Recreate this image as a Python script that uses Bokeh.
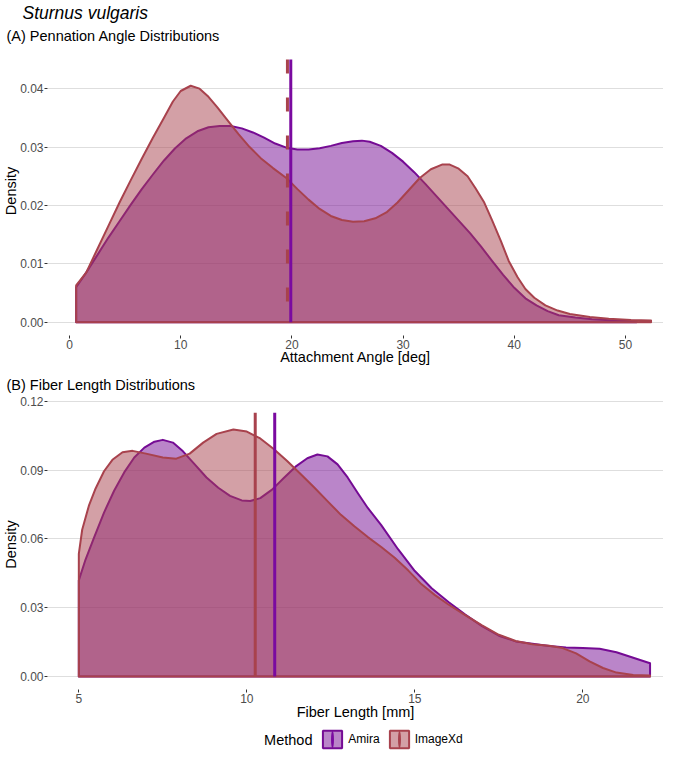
from bokeh.plotting import figure
from bokeh.models import Range1d, FixedTicker, NumeralTickFormatter, Title, Legend, LegendItem, Label
from bokeh.layouts import column
from bokeh.embed import file_html
from bokeh.resources import INLINE

# ---------------- data ----------------
methods = ["Amira", "ImageXd"]
colors = {"Amira": "#750B94", "ImageXd": "#A8424D"}
mean_line_colors = {"Amira": "#7A0AA0", "ImageXd": "#A8424D"}

# Panel A: attachment (pennation) angle densities
angle_amira_x = [0.6, 1.5, 2.5, 3.5, 4.5, 5.5, 6.5, 7.5, 8.5, 9.5, 10.5, 11.5, 12.5, 13.5, 14.5,
                 15.5, 16.5, 17.5, 18.5, 19.5, 20.5, 21.5, 22.5, 23.5, 24.5, 25.5, 26.3, 27.0,
                 28.0, 29.0, 30.0, 31.0, 32.0, 33.0, 34.0, 35.0, 36.0, 37.0, 38.0, 39.0, 40.0,
                 41.0, 42.0, 43.0, 44.0, 45.5, 47.0, 49.0, 51.0]
angle_amira_y = [0.0060, 0.0085, 0.0115, 0.0145, 0.0173, 0.0201, 0.0228, 0.0253, 0.0277, 0.0298,
                 0.0315, 0.0327, 0.0334, 0.0336, 0.0336, 0.0332, 0.0325, 0.0316, 0.0306, 0.0299,
                 0.0296, 0.0296, 0.0298, 0.0302, 0.0307, 0.0310, 0.0311, 0.0309, 0.0302, 0.0290,
                 0.0275, 0.0257, 0.0237, 0.0216, 0.0195, 0.0174, 0.0153, 0.0130, 0.0105, 0.0081,
                 0.0059, 0.0041, 0.0029, 0.0019, 0.0012, 0.0008, 0.0005, 0.0003, 0.0002]
angle_imagexd_x = [0.6, 1.5, 2.5, 3.5, 4.5, 5.5, 6.5, 7.5, 8.5, 9.3, 10.0, 10.9, 11.7, 12.5, 13.3,
                   14.2, 15.2, 16.2, 17.2, 18.3, 19.5, 20.5, 21.5, 22.5, 23.5, 24.5, 25.5, 26.5,
                   27.5, 28.5, 29.5, 30.5, 31.5, 32.5, 33.5, 34.2, 35.0, 35.8, 36.5, 37.3, 38.0,
                   38.8, 39.5, 40.3, 41.0, 41.8, 42.8, 43.9, 45.0, 46.8, 48.5, 50.5, 52.3]
angle_imagexd_y = [0.0063, 0.0085, 0.0125, 0.0165, 0.0205, 0.0243, 0.0280, 0.0316, 0.0350, 0.0378,
                   0.0396, 0.0405, 0.0400, 0.0386, 0.0368, 0.0346, 0.0322, 0.0300, 0.0281, 0.0264,
                   0.0247, 0.0228, 0.0210, 0.0194, 0.0182, 0.0175, 0.0172, 0.0173, 0.0178, 0.0188,
                   0.0205, 0.0226, 0.0247, 0.0262, 0.0270, 0.0270, 0.0263, 0.0250, 0.0230, 0.0205,
                   0.0175, 0.0139, 0.0105, 0.0077, 0.0057, 0.0042, 0.0029, 0.0020, 0.0014, 0.0009,
                   0.0006, 0.0004, 0.0003]
angle_means = {"Amira": 19.9, "ImageXd": 19.6}
angle_line_top = 0.045

# Panel B: fiber length densities
length_amira_x = [5.0, 5.2, 5.45, 5.75, 6.05, 6.35, 6.65, 6.95, 7.25, 7.5, 7.8, 8.1, 8.45, 8.8,
                  9.15, 9.5, 9.85, 10.1, 10.4, 10.75, 11.1, 11.45, 11.8, 12.1, 12.4, 12.7, 13.0,
                  13.3, 13.6, 14.0, 14.5, 15.0, 15.5, 16.0, 16.5, 17.0, 17.5, 18.0, 18.5, 19.0,
                  19.5, 20.0, 20.5, 21.0, 21.5, 22.0]
length_amira_y = [0.0419, 0.0510, 0.0605, 0.0715, 0.0810, 0.0890, 0.0955, 0.0998, 0.1024, 0.1032,
                  0.1020, 0.0982, 0.0925, 0.0868, 0.0823, 0.0788, 0.0768, 0.0765, 0.0778, 0.0815,
                  0.0866, 0.0915, 0.0952, 0.0968, 0.0960, 0.0925, 0.0868, 0.0800, 0.0735, 0.0660,
                  0.0555, 0.0460, 0.0385, 0.0325, 0.0270, 0.0220, 0.0178, 0.0153, 0.0143, 0.0133,
                  0.0127, 0.0124, 0.0121, 0.0106, 0.0082, 0.0058]
length_imagexd_x = [5.0, 5.1, 5.3, 5.5, 5.75, 6.0, 6.3, 6.6, 7.0, 7.5, 7.9, 8.3, 8.7, 9.1, 9.6,
                    10.0, 10.4, 10.8, 11.2, 11.6, 12.0, 12.4, 12.8, 13.2, 13.6, 14.0, 14.4, 14.8,
                    15.2, 15.6, 16.0, 16.5, 17.0, 17.5, 18.0, 18.5, 19.0, 19.4, 19.8, 20.2, 20.6,
                    21.0, 21.5, 22.0]
length_imagexd_y = [0.0535, 0.0640, 0.0745, 0.0820, 0.0895, 0.0945, 0.0978, 0.0984, 0.0972, 0.0955,
                    0.0950, 0.0972, 0.1020, 0.1058, 0.1077, 0.1068, 0.1038, 0.0992, 0.0940, 0.0883,
                    0.0825, 0.0765, 0.0705, 0.0655, 0.0608, 0.0565, 0.0518, 0.0463, 0.0402, 0.0355,
                    0.0314, 0.0268, 0.0223, 0.0182, 0.0155, 0.0141, 0.0134, 0.0124, 0.0101, 0.0066,
                    0.0037, 0.0017, 0.0007, 0.0004]
length_means = {"Amira": 10.83, "ImageXd": 10.25}
length_line_top = 0.115

angle_xticks = [0, 10, 20, 30, 40, 50]
angle_yticks = [0.0, 0.01, 0.02, 0.03, 0.04]
length_xticks = [5, 10, 15, 20]
length_yticks = [0.0, 0.03, 0.06, 0.09, 0.12]

FONT = "Liberation Sans"


def closed(xs, ys):
    return [xs[0]] + list(xs) + [xs[-1]], [0.0] + list(ys) + [0.0]


def style(p, xticks, yticks, xlabel, xlabel_standoff):
    p.outline_line_color = None
    p.background_fill_color = "white"
    p.border_fill_color = "white"
    p.xgrid.grid_line_color = None
    p.ygrid.grid_line_color = "#DEDEDE"
    p.ygrid.grid_line_width = 1
    p.xaxis.ticker = FixedTicker(ticks=xticks)
    p.yaxis.ticker = FixedTicker(ticks=yticks)
    p.yaxis.formatter = NumeralTickFormatter(format="0.00")
    p.xaxis.axis_label = xlabel
    p.yaxis.axis_label = "Density"
    for ax in (p.xaxis[0], p.yaxis[0]):
        ax.axis_line_color = None
        ax.major_tick_line_color = "#333333"
        ax.major_tick_out = 3
        ax.major_tick_in = 0
        ax.minor_tick_line_color = None
        ax.major_label_text_font = FONT
        ax.major_label_text_font_size = "12px"
        ax.major_label_text_color = "#4D4D4D"
        ax.major_label_standoff = 1
        ax.axis_label_text_font = FONT
        ax.axis_label_text_font_size = "14.5px"
        ax.axis_label_text_font_style = "normal"
        ax.axis_label_text_color = "black"
        ax.axis_label_standoff = -2
    p.xaxis[0].axis_label_standoff = xlabel_standoff


def title(text, offset, size, standoff, style_="normal"):
    return Title(text=text, align="left", offset=offset, text_font=FONT, text_font_size=size,
                 text_font_style=style_, text_color="black", standoff=standoff)


# ---------------- panel A ----------------
pA = figure(width=663, height=367, output_backend="svg", toolbar_location=None,
            x_range=Range1d(-1.978, 53.42), y_range=Range1d(-0.00227, 0.04722),
            min_border_left=47, min_border_right=0, min_border_top=45, min_border_bottom=32)
pA.title_location = None
style(pA, angle_xticks, angle_yticks, "Attachment Angle [deg]", -3)
pA.add_layout(title("(A)  Pennation Angle Distributions", -41, "14.5px", 6), "above")
pA.add_layout(title("Sturnus vulgaris", -25, "17.5px", 0, "italic"), "above")

for m, xs, ys in (("Amira", angle_amira_x, angle_amira_y), ("ImageXd", angle_imagexd_x, angle_imagexd_y)):
    px, py = closed(xs, ys)
    pA.patch(px, py, fill_color=colors[m], fill_alpha=0.5, line_color=colors[m], line_width=2,
             line_join="round")

pA.segment(x0=[angle_means["ImageXd"]], y0=[angle_line_top], x1=[angle_means["ImageXd"]], y1=[0],
           line_color=mean_line_colors["ImageXd"], line_width=3, line_dash="14 24")
pA.segment(x0=[angle_means["Amira"]], y0=[angle_line_top], x1=[angle_means["Amira"]], y1=[0],
           line_color=mean_line_colors["Amira"], line_width=3)

# ---------------- panel B ----------------
pB = figure(width=663, height=355, output_backend="svg", toolbar_location=None,
            x_range=Range1d(4.068, 22.40), y_range=Range1d(-0.00567, 0.1208),
            min_border_left=47, min_border_right=0, min_border_top=32, min_border_bottom=33)
pB.title_location = None
style(pB, length_xticks, length_yticks, "Fiber Length [mm]", -2)
pB.add_layout(title("(B)  Fiber Length Distributions", -41, "14.5px", 14), "above")

length_curves = {"Amira": (length_amira_x, length_amira_y), "ImageXd": (length_imagexd_x, length_imagexd_y)}
for m in methods:
    px, py = closed(*length_curves[m])
    pB.patch(px, py, fill_color=colors[m], fill_alpha=0.5, line_color=colors[m],
             line_width=2, line_join="round")

for m in ("ImageXd", "Amira"):
    pB.segment(x0=[length_means[m]], y0=[0], x1=[length_means[m]], y1=[length_line_top],
               line_color=mean_line_colors[m], line_width=3)

# ---------------- legend strip ----------------
# key glyphs are drawn from the same data, but the strip's ranges keep the data itself out of view
pL = figure(width=663, height=28, output_backend="svg", toolbar_location=None,
            x_range=Range1d(-2, -1), y_range=Range1d(-2, -1), min_border=0,
            min_border_left=47, x_axis_location=None, y_axis_location=None)
pL.title_location = None
pL.outline_line_color = None
pL.xgrid.grid_line_color = None
pL.ygrid.grid_line_color = None

keys = {}
for m in methods:
    px, py = closed(*length_curves[m])
    r_fill = pL.patch(px, py, fill_color=colors[m], fill_alpha=0.5, line_color=colors[m], line_width=2)
    # narrow vertical key mark standing for the mean line
    r_line = pL.ellipse(x=[length_means[m]], y=[0], width=3, height=18, width_units="screen",
                        height_units="screen", fill_color=mean_line_colors[m], line_color=None)
    keys[m] = [r_fill, r_line]

legend = Legend(items=[LegendItem(label=m, renderers=keys[m]) for m in methods],
                orientation="horizontal", location=(273.3, 0), glyph_width=24, glyph_height=22,
                label_standoff=4, spacing=7, padding=0, margin=0, border_line_color=None,
                background_fill_alpha=0, label_text_font=FONT, label_text_font_size="12px",
                label_text_color="black")
pL.add_layout(legend, "center")
pL.add_layout(Label(x=216.6, y=11, x_units="screen", y_units="screen", text="Method",
                    text_font=FONT, text_font_size="14.5px", text_baseline="middle",
                    text_align="left", text_color="black"))

layout = column(pA, pB, pL)
open("out.html", "w").write(file_html(layout, INLINE))
